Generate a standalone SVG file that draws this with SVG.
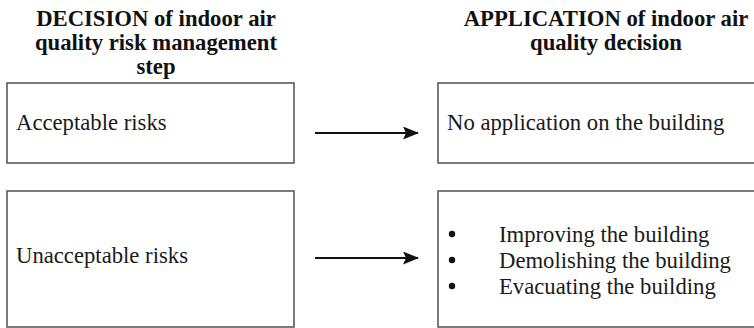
<svg xmlns="http://www.w3.org/2000/svg" width="754" height="328" viewBox="0 0 754 328">
  <style>
    .box { fill: #ffffff; stroke: #5a5a5a; stroke-width: 1.6; }
    text { font-family: 'Liberation Serif', 'Times New Roman', Times, serif; font-size: 22.7px; }
    .head { font-weight: bold; fill: #111; text-anchor: middle; }
    .lbl { fill: #1a1a1a; }
    .conn { stroke: #111; stroke-width: 2.2; fill: none; }
  </style>
  <defs>
    <marker id="arrowhead" viewBox="0 0 16 13" refX="15" refY="6.5" markerWidth="16" markerHeight="13" markerUnits="userSpaceOnUse" orient="auto">
      <path d="M0,0 L16,6.5 L0,13 L3,6.5 z" fill="#111"/>
    </marker>
  </defs>
  <rect width="754" height="328" fill="#ffffff"/>

  <!-- column headings -->
  <g id="heading-decision">
    <text class="head" x="156" y="26">DECISION of indoor air</text>
    <text class="head" x="156" y="50">quality risk management</text>
    <text class="head" x="156" y="74">step</text>
  </g>
  <g id="heading-application">
    <text class="head" x="606" y="26">APPLICATION of indoor air</text>
    <text class="head" x="606" y="50">quality decision</text>
  </g>

  <!-- decision nodes -->
  <g id="acceptable">
    <rect class="box" x="7" y="83" width="287" height="80"/>
    <text class="lbl" x="16" y="130">Acceptable risks</text>
  </g>
  <g id="unacceptable">
    <rect class="box" x="7" y="191" width="287" height="136"/>
    <text class="lbl" x="16" y="263">Unacceptable risks</text>
  </g>

  <!-- application nodes -->
  <g id="no-application">
    <rect class="box" x="438" y="83" width="330" height="80"/>
    <text class="lbl" x="447" y="130">No application on the building</text>
  </g>
  <g id="actions">
    <rect class="box" x="438" y="191" width="330" height="136"/>
    <circle cx="452" cy="234" r="3.2" fill="#111"/>
    <circle cx="452" cy="260" r="3.2" fill="#111"/>
    <circle cx="452" cy="286" r="3.2" fill="#111"/>
    <text class="lbl" x="499" y="242">Improving the building</text>
    <text class="lbl" x="499" y="268">Demolishing the building</text>
    <text class="lbl" x="499" y="294">Evacuating the building</text>
  </g>

  <!-- connectors -->
  <g id="connectors">
    <line class="conn" x1="315" y1="133" x2="418" y2="133" marker-end="url(#arrowhead)"/>
    <line class="conn" x1="315" y1="258" x2="418" y2="258" marker-end="url(#arrowhead)"/>
  </g>
</svg>
